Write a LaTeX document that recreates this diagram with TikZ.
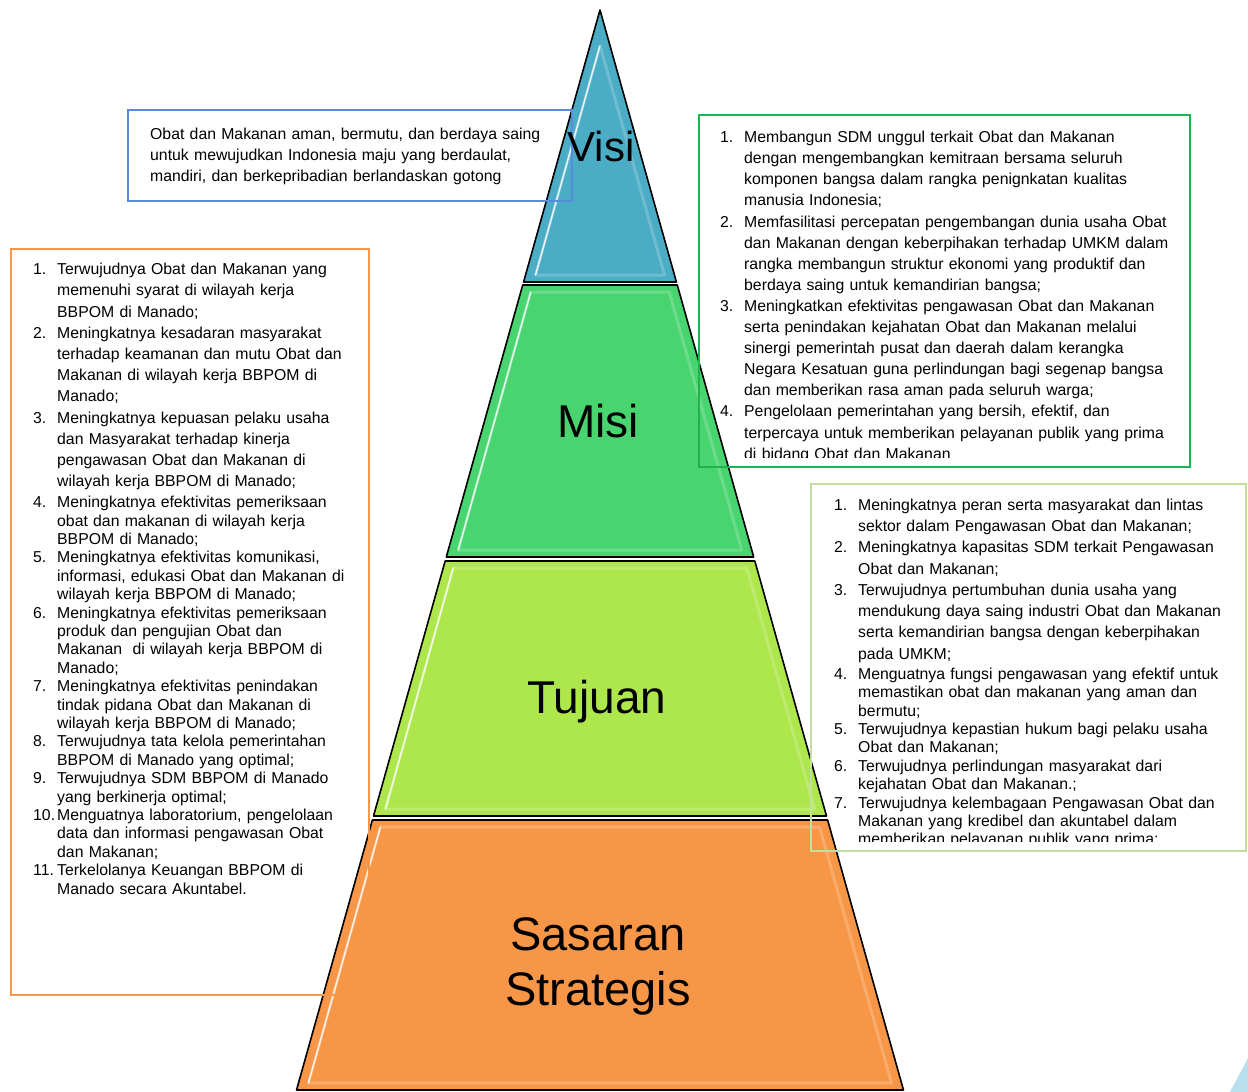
\documentclass[tikz,border=0pt]{standalone}
\usepackage{fontspec}
\setmainfont{Liberation Sans}
\usetikzlibrary{calc}
\definecolor{visiTeal}{HTML}{4BACC6}
\definecolor{misiGreen}{HTML}{48D46F}
\definecolor{tujuanGreen}{HTML}{AEE74B}
\definecolor{sasaranOrange}{HTML}{F79646}
\definecolor{visiLine}{HTML}{5A8BD8}
\definecolor{misiLine}{HTML}{20B24D}
\definecolor{tujuanLine}{HTML}{C3DF9F}
\definecolor{cornerBlue}{HTML}{B9DFEE}
\setlength{\parindent}{0pt}
\setlength{\parskip}{0pt}
% numbered line with hanging indent (end each item with \par)
\newcommand{\itm}[1]{\hangindent=24pt\hangafter=1\noindent\makebox[24pt][l]{#1}}

\begin{document}
\begin{tikzpicture}[x=1pt, y=-1pt,
    every node/.style={font=\fontsize{15.8}{21}\selectfont},
    listbox/.style={line width=2pt},
    listtext/.style={anchor=north west, inner sep=0pt, align=left},
    layerlabel/.style={font=\fontsize{46}{55}\selectfont, inner sep=0pt, align=center}]

  \useasboundingbox (0,0) rectangle (1248,1092);

  % pyramid layers
  \foreach \yt/\yi/\yb/\col in {10/46/282/visiTeal, 285/292/557/misiGreen,
      561/568/816/tujuanGreen, 820/827/1090/sasaranOrange}{
    \pgfmathsetmacro{\dt}{0.281*(\yt-10)}
    \pgfmathsetmacro{\db}{0.281*(\yb-10)}
    \pgfmathsetmacro{\di}{0.281*(\yi-10)-10}
    \pgfmathsetmacro{\dj}{0.281*(\yb-17)-10}
    \fill[\col] (600-\dt,\yt) -- (600+\dt,\yt) -- (600+\db,\yb) -- (600-\db,\yb) -- cycle;
    \draw[white, opacity=.2, line width=3pt, line join=round]
      (600-\di,\yi) -- (600+\di,\yi) -- (600+\dj,\yb-7) -- (600-\dj,\yb-7) -- cycle;
    \draw[white, opacity=.85, line width=1.5pt, line cap=round] (600-\di,\yi) -- (600-\dj,\yb-7);
    \draw[line width=1.6pt, line join=round]
      (600-\dt,\yt) -- (600+\dt,\yt) -- (600+\db,\yb) -- (600-\db,\yb) -- cycle;
  }

  % boxes
  \draw[visiLine, listbox] (128,110) rectangle (572,201);
  \draw[misiLine, listbox] (699,115) rectangle (1190,467);
  \draw[sasaranOrange, listbox] (11,249) rectangle (369,995);
  \draw[tujuanLine, line width=2.5pt] (811,484) rectangle (1246,851);

  \node[listtext, text width=410pt] (visiText) at (150,127.5)
    {Obat dan Makanan aman, bermutu, dan berdaya saing\newline
     untuk mewujudkan Indonesia maju yang berdaulat,\newline
     mandiri, dan berkepribadian berlandaskan gotong};

  \begin{scope}
    \clip (699,115) rectangle (1190,457);
    \node[listtext, text width=460pt, font=\fontsize{15.8}{21.1}\selectfont] (misiText) at (720,131)
      {\itm{1.}Membangun SDM unggul terkait Obat dan Makanan\newline
       dengan mengembangkan kemitraan bersama seluruh\newline
       komponen bangsa dalam rangka penignkatan kualitas\newline
       manusia Indonesia;\par
       \itm{2.}Memfasilitasi percepatan pengembangan dunia usaha Obat\newline
       dan Makanan dengan keberpihakan terhadap UMKM dalam\newline
       rangka membangun struktur ekonomi yang produktif dan\newline
       berdaya saing untuk kemandirian bangsa;\par
       \itm{3.}Meningkatkan efektivitas pengawasan Obat dan Makanan\newline
       serta penindakan kejahatan Obat dan Makanan melalui\newline
       sinergi pemerintah pusat dan daerah dalam kerangka\newline
       Negara Kesatuan guna perlindungan bagi segenap bangsa\newline
       dan memberikan rasa aman pada seluruh warga;\par
       \itm{4.}Pengelolaan pemerintahan yang bersih, efektif, dan\newline
       terpercaya untuk memberikan pelayanan publik yang prima\newline
       di bidang Obat dan Makanan\par};
  \end{scope}

  \node[listtext, text width=330pt, font=\fontsize{15.8}{21.2}\selectfont] (sasaranText) at (33,263)
    {\itm{1.}Terwujudnya Obat dan Makanan yang\newline
     memenuhi syarat di wilayah kerja\newline
     BBPOM di Manado;\par
     \itm{2.}Meningkatnya kesadaran masyarakat\newline
     terhadap keamanan dan mutu Obat dan\newline
     Makanan di wilayah kerja BBPOM di\newline
     Manado;\par
     \itm{3.}Meningkatnya kepuasan pelaku usaha\newline
     dan Masyarakat terhadap kinerja\newline
     pengawasan Obat dan Makanan di\newline
     wilayah kerja BBPOM di Manado;\par
     \vskip2.6pt\fontsize{15.8}{18.4}\selectfont
     \itm{4.}Meningkatnya efektivitas pemeriksaan\newline
     obat dan makanan di wilayah kerja\newline
     BBPOM di Manado;\par
     \itm{5.}Meningkatnya efektivitas komunikasi,\newline
     informasi, edukasi Obat dan Makanan di\newline
     wilayah kerja BBPOM di Manado;\par
     \itm{6.}Meningkatnya efektivitas pemeriksaan\newline
     produk dan pengujian Obat dan\newline
     Makanan\ \ di wilayah kerja BBPOM di\newline
     Manado;\par
     \itm{7.}Meningkatnya efektivitas penindakan\newline
     tindak pidana Obat dan Makanan di\newline
     wilayah kerja BBPOM di Manado;\par
     \itm{8.}Terwujudnya tata kelola pemerintahan\newline
     BBPOM di Manado yang optimal;\par
     \itm{9.}Terwujudnya SDM BBPOM di Manado\newline
     yang berkinerja optimal;\par
     \itm{10.}Menguatnya laboratorium, pengelolaan\newline
     data dan informasi pengawasan Obat\newline
     dan Makanan;\par
     \itm{11.}Terkelolanya Keuangan BBPOM di\newline
     Manado secara Akuntabel.\par};

  \begin{scope}
    \clip (811,484) rectangle (1246,841);
    \node[listtext, text width=400pt, font=\fontsize{15.8}{21.3}\selectfont] (tujuanText) at (834,498.5)
      {\itm{1.}Meningkatnya peran serta masyarakat dan lintas\newline
       sektor dalam Pengawasan Obat dan Makanan;\par
       \itm{2.}Meningkatnya kapasitas SDM terkait Pengawasan\newline
       Obat dan Makanan;\par
       \itm{3.}Terwujudnya pertumbuhan dunia usaha yang\newline
       mendukung daya saing industri Obat dan Makanan\newline
       serta kemandirian bangsa dengan keberpihakan\newline
       pada UMKM;\par
       \vskip1.6pt\fontsize{15.8}{18.4}\selectfont
       \itm{4.}Menguatnya fungsi pengawasan yang efektif untuk\newline
       memastikan obat dan makanan yang aman dan\newline
       bermutu;\par
       \itm{5.}Terwujudnya kepastian hukum bagi pelaku usaha\newline
       Obat dan Makanan;\par
       \itm{6.}Terwujudnya perlindungan masyarakat dari\newline
       kejahatan Obat dan Makanan.;\par
       \itm{7.}Terwujudnya kelembagaan Pengawasan Obat dan\newline
       Makanan yang kredibel dan akuntabel dalam\newline
       memberikan pelayanan publik yang prima;\par};
  \end{scope}

  % layer titles
  \node[layerlabel, anchor=base, font=\fontsize{42}{50}\selectfont] (visiLabel) at (601,161) {Visi};
  \node[layerlabel, anchor=base] (misiLabel) at (598,437) {Misi};
  \node[layerlabel, anchor=base] (tujuanLabel) at (597,713) {Tujuan};
  \node[layerlabel, anchor=north, font=\fontsize{47}{55}\selectfont] (sasaranLabel) at (598,917) {Sasaran\\Strategis};

  \fill[cornerBlue] (1230,1092) -- (1248,1058) -- (1248,1092) -- cycle;
\end{tikzpicture}
\end{document}
